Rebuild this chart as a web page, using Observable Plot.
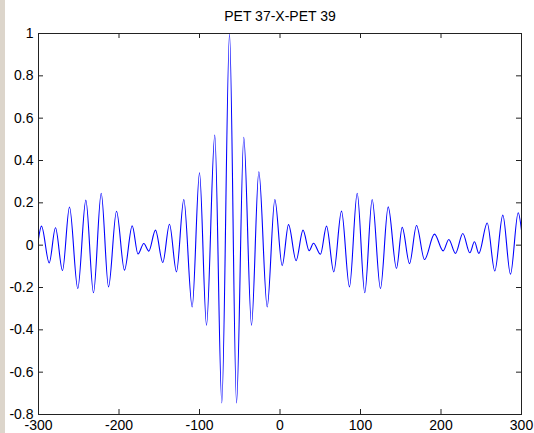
<!DOCTYPE html>
<html>
<head>
<meta charset="utf-8">
<script src="https://cdn.jsdelivr.net/npm/d3@7"></script>
<script src="https://cdn.jsdelivr.net/npm/@observablehq/plot@0.6"></script>
<style>
  html, body { margin: 0; padding: 0; background: #fff; }
  #wrap { position: relative; width: 534px; height: 433px; overflow: hidden; }
  #strip { position: absolute; left: 0; top: 0; width: 5px; height: 433px; background: #dcd5cb; }
</style>
</head>
<body>
<div id="wrap"><div id="strip"></div></div>
<script>
// Cross-correlation lags (extrema)
const lags = [-300, -296.3, -286.7, -278.9, -270.2, -261.5, -251.2, -241.2, -231.7, -222.1,
  -213, -203.1, -193.2, -183.6, -176.4, -169.2, -163, -154.7, -145.6, -137.3,
  -128.6, -119.5, -109.1, -100, -91.3, -81, -72.3, -62.7, -54, -45,
  -35.4, -26.3, -15.9, -6.4, 2.7, 10.6, 20, 28.6, 36.2, 41.6,
  50.3, 57.8, 66.8, 76.4, 86.3, 95.9, 105.3, 114.5, 124.8, 134.4,
  144.7, 151.8, 160.9, 169.6, 179.5, 191.9, 202.7, 209.7, 218, 227.1,
  235.8, 241.6, 247, 257.4, 266.8, 276.8, 286.3, 295.9, 300];
const values = [0.03, 0.09, -0.084, 0.082, -0.12, 0.18, -0.205, 0.213, -0.225, 0.245,
  -0.197, 0.16, -0.118, 0.091, -0.042, 0.008, -0.028, 0.071, -0.082, 0.099,
  -0.126, 0.216, -0.292, 0.342, -0.378, 0.52, -0.746, 1.0, -0.746, 0.51,
  -0.378, 0.347, -0.292, 0.216, -0.097, 0.097, -0.073, 0.071, -0.026, 0.009,
  -0.043, 0.09, -0.126, 0.161, -0.197, 0.245, -0.225, 0.216, -0.205, 0.181,
  -0.11, 0.084, -0.087, 0.093, -0.068, 0.052, -0.027, 0.027, -0.039, 0.055,
  -0.036, 0.016, -0.039, 0.105, -0.122, 0.142, -0.137, 0.153, 0.071];

const xTicks = [-300, -200, -100, 0, 100, 200, 300];
const xTickLabels = ["-300", "-200", "-100", "0", "100", "200", "300"];
const yTicks = [-0.8, -0.6, -0.4, -0.2, 0, 0.2, 0.4, 0.6, 0.8, 1];
const yTickLabels = ["-0.8", "-0.6", "-0.4", "-0.2", "0", "0.2", "0.4", "0.6", "0.8", "1"];
const title = "PET 37-X-PET 39";

const data = lags.map((l, i) => ({lag: l, r: values[i]}));

const W = 534, H = 433, mL = 38, mR = 13, mT = 33, mB = 19;
const innerW = W - mL - mR, innerH = H - mT - mB, tk = 5;
const font = "'Liberation Sans', Arial, Helvetica, sans-serif";

const chart = Plot.plot({
  width: W, height: H,
  marginLeft: mL, marginRight: mR, marginTop: mT, marginBottom: mB,
  style: {fontFamily: font, fontSize: "14px", background: "transparent", color: "#000"},
  x: {domain: [-300, 300]},
  y: {domain: [-0.8, 1]},
  marks: [
    Plot.line(data, {x: "lag", y: "r", stroke: "#0000ff", strokeWidth: 1.1, curve: "monotone-x"}),
    Plot.frame({stroke: "#222", strokeWidth: 1}),
    Plot.tickX(xTicks, {x: d => d, stroke: "#222", insetTop: innerH - tk}),
    Plot.tickX(xTicks, {x: d => d, stroke: "#222", insetBottom: innerH - tk}),
    Plot.tickY(yTicks, {y: d => d, stroke: "#222", insetRight: innerW - tk}),
    Plot.tickY(yTicks, {y: d => d, stroke: "#222", insetLeft: innerW - tk}),
    Plot.axisX({ticks: xTicks, tickSize: 0, tickPadding: 6, fontSize: 14, fill: "#000",
      tickFormat: d => xTickLabels[xTicks.indexOf(d)], label: null}),
    Plot.axisY({ticks: yTicks, tickSize: 0, tickPadding: 5, fontSize: 14, fill: "#000",
      tickFormat: d => yTickLabels[yTicks.findIndex(t => Math.abs(t - d) < 1e-9)], label: null}),
    Plot.text([title], {frameAnchor: "top", dy: -16.5, fontSize: 14, fill: "#000", lineAnchor: "middle"})
  ]
});
document.getElementById("wrap").prepend(chart);
</script>
</body>
</html>
